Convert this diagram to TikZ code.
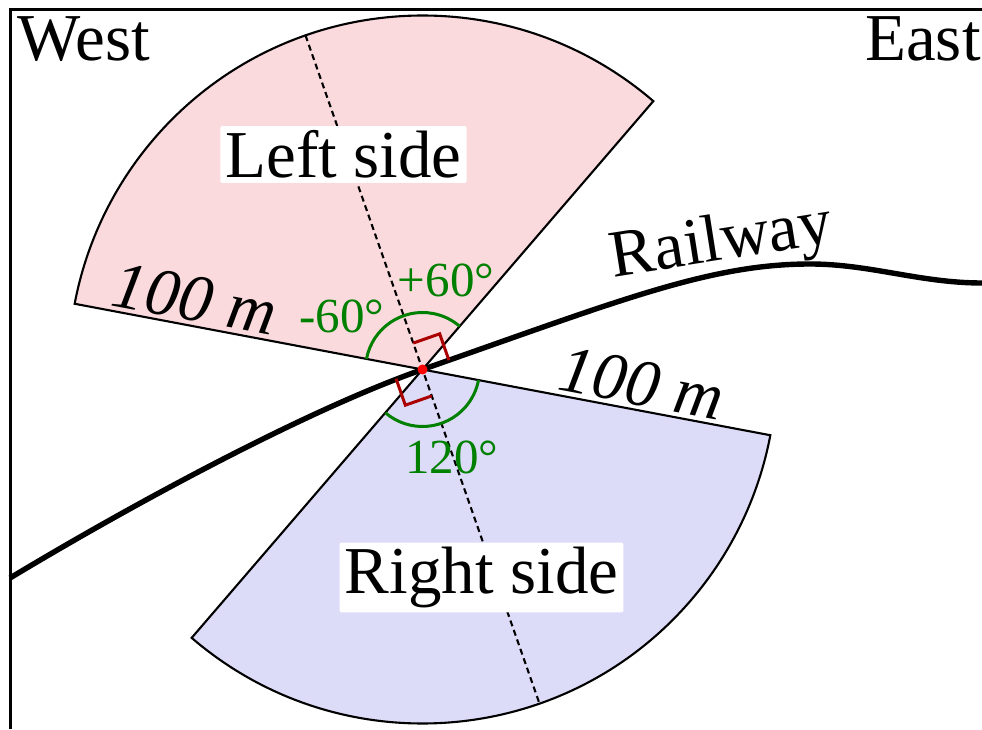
\documentclass[tikz,border=0pt]{standalone}
\usepackage{fontspec}
\setmainfont{Liberation Serif}
\usetikzlibrary{calc}
\definecolor{sectorpink}{RGB}{250,218,221}
\definecolor{sectorblue}{RGB}{221,220,248}
\definecolor{anglegreen}{RGB}{0,128,0}
\definecolor{markred}{RGB}{170,0,0}
\tikzset{
  sectoredge/.style={draw=black, line width=2.1pt},
  axisline/.style={draw=black, line width=2.1pt, dash pattern=on 6pt off 4pt},
  railline/.style={draw=black, line width=5.4pt},
  anglearc/.style={draw=anglegreen, line width=3pt},
  rightmark/.style={draw=markred, line width=3pt},
  tightnode/.style={inner sep=0pt, scale=2, transform shape},
  labelbox/.style={fill=white, rounded corners=1.5pt, inner xsep=2.5pt, inner ysep=2.25pt, scale=2, transform shape},
}
\begin{document}
\begin{tikzpicture}[x=1pt,y=1pt]
\useasboundingbox (0,0) rectangle (982,729);
\coordinate (C) at (422.5,359.5);
% sectors
\fill[sectorpink, sectoredge] (C) -- ($(C)+(49.3:354)$) arc[start angle=49.3, end angle=169.3, radius=354] -- cycle;
\fill[sectorblue, sectoredge] (C) -- ($(C)+(-130.7:354)$) arc[start angle=-130.7, end angle=-10.7, radius=354] -- cycle;
% axis
\coordinate (axtop) at ($(C)+(109.3:354)$);
\coordinate (axbot) at ($(C)+(-70.7:354)$);
\draw[axisline] (axtop) -- (axbot);
% railway
\coordinate (railstart) at (10,151);
\coordinate (railpeak) at (810,465);
\coordinate (railend) at (982,446);
\draw[railline] (railstart) .. controls (138.6,228.3) and ($(C)+(199.3:120)$) .. (C)
  .. controls ($(C)+(19.3:210)$) and (710,465) .. (railpeak)
  .. controls (870,465) and (920,446) .. (railend);
% angle arcs
\draw[anglearc] ($(C)+(169.3:57)$) arc[start angle=169.3, end angle=49.3, radius=57];
\draw[anglearc] ($(C)+(-130.7:57)$) arc[start angle=-130.7, end angle=-10.7, radius=57];
% right-angle marks
\draw[rightmark] ($(C)+(109.3:28)$) -- ++(19.3:28) -- ++(-70.7:28);
\draw[rightmark] ($(C)+(-70.7:28)$) -- ++(199.3:28) -- ++(109.3:28);
\node[circle, fill=red, inner sep=0pt, minimum size=10pt] (dot) at (C) {};
% frame
\draw[line width=2.5pt] (10.5,0) -- (10.5,719.5) -- (982,719.5);
% labels
\node[tightnode, font=\fontsize{33.5}{40}\selectfont, anchor=base west] (west) at (17,668) {West};
\node[tightnode, font=\fontsize{33.5}{40}\selectfont, anchor=base east] (east) at (981,668) {East};
\node[tightnode, font=\fontsize{33.5}{40}\selectfont, rotate=9, anchor=base] (rail) at (724,469) {Railway};
\node[labelbox, font=\fontsize{33.5}{40}\selectfont] (leftside) at (343.5,574.5) {Left side};
\node[labelbox, font=\fontsize{33.5}{40}\selectfont] (rightside) at (481.5,151.5) {Right side};
\node[tightnode, font=\fontsize{33.5}{40}\selectfont\itshape, rotate=-10.7, anchor=base] (distl) at ($(C)+(169.3:237)+(79.3:5)$) {100 m};
\node[tightnode, font=\fontsize{33.5}{40}\selectfont\itshape, rotate=-10.7, anchor=base] (distr) at ($(C)+(-10.7:218)+(79.3:5)$) {100 m};
\node[tightnode, font=\fontsize{24.5}{29}\selectfont, text=anglegreen] (plus60) at (446,449) {+60\char"00B0};
\node[tightnode, font=\fontsize{24.5}{29}\selectfont, text=anglegreen] (minus60) at (342,413) {-60\char"00B0};
\node[tightnode, font=\fontsize{24.5}{29}\selectfont, text=anglegreen] (a120) at (451.7,271.5) {120\char"00B0};
\end{tikzpicture}
\end{document}
